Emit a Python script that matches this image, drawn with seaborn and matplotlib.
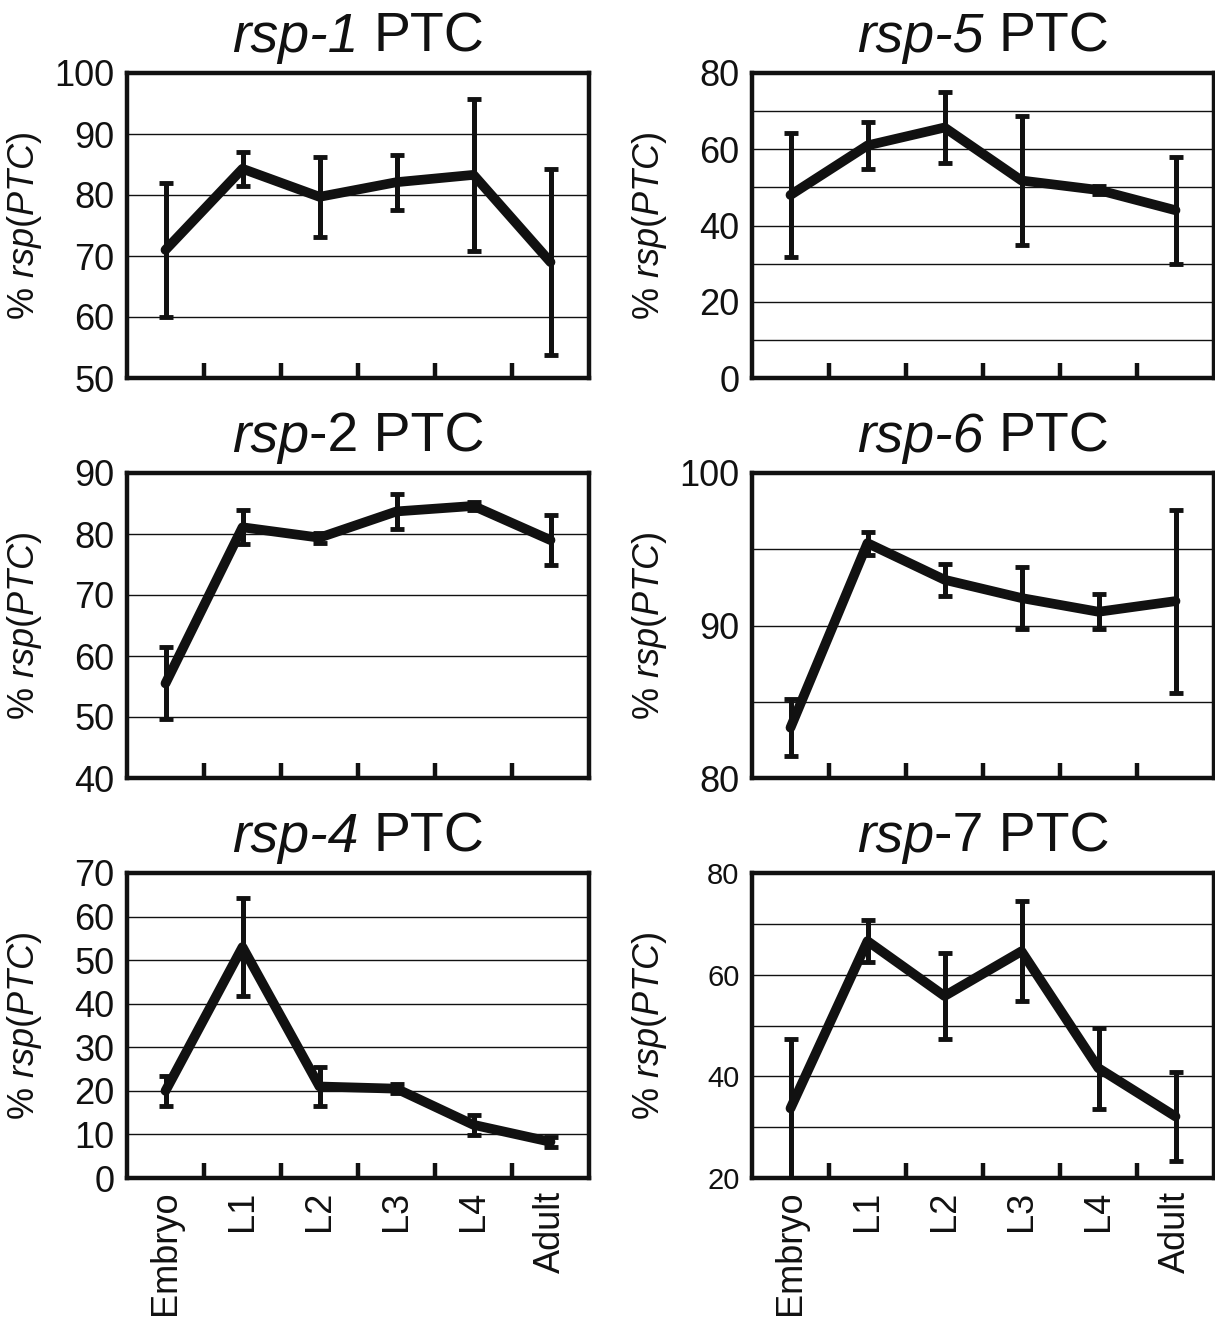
import numpy as np
import seaborn as sns
import matplotlib
matplotlib.use("Agg")
import matplotlib.pyplot as plt
from matplotlib.ticker import FixedLocator
from matplotlib.offsetbox import TextArea, HPacker, AnchoredOffsetbox

# developmental stages (x categories)
stages = ["Embryo", "L1", "L2", "L3", "L4", "Adult"]

# % rsp(PTC), mean and error bar half-length per stage
rsp1_mean = [71.0, 84.3, 79.7, 82.1, 83.3, 69.0]
rsp1_err = [11.0, 2.8, 6.6, 4.5, 12.4, 15.2]

rsp5_mean = [48.0, 61.0, 65.7, 51.8, 49.3, 44.0]
rsp5_err = [16.2, 6.1, 9.2, 17.0, 1.0, 14.0]

rsp2_mean = [55.5, 81.1, 79.4, 83.7, 84.6, 79.0]
rsp2_err = [5.9, 2.8, 0.8, 2.9, 0.6, 4.1]

rsp6_mean = [83.3, 95.4, 93.0, 91.8, 90.9, 91.6]
rsp6_err = [1.85, 0.75, 1.05, 2.05, 1.15, 6.0]

rsp4_mean = [20.0, 53.0, 21.0, 20.5, 12.2, 8.3]
rsp4_err = [3.5, 11.2, 4.5, 1.0, 2.3, 1.2]

rsp7_mean = [33.7, 66.6, 55.8, 64.6, 41.6, 32.1]
rsp7_err = [13.7, 4.1, 8.4, 9.8, 8.0, 8.8]

sns.set_style("white")
plt.rcParams["font.family"] = ["Liberation Sans", "DejaVu Sans"]
plt.rcParams["mathtext.fontset"] = "custom"
plt.rcParams["mathtext.rm"] = "Liberation Sans"
plt.rcParams["mathtext.it"] = "Liberation Sans:italic"

INK = "#111111"

# (italic part, plain part, mean, err, ylim, major ticks, minor ticks, tick size)
panels = [
    ("rsp-1", "PTC", rsp1_mean, rsp1_err, (50, 100), np.arange(50, 101, 10), [], 26),
    ("rsp-5", "PTC", rsp5_mean, rsp5_err, (0, 80), np.arange(0, 81, 20), np.arange(10, 80, 20), 26),
    ("rsp", "-2 PTC", rsp2_mean, rsp2_err, (40, 90), np.arange(40, 91, 10), [], 26),
    ("rsp-6", "PTC", rsp6_mean, rsp6_err, (80, 100), [80, 90, 100], [85, 95], 26),
    ("rsp-4", "PTC", rsp4_mean, rsp4_err, (0, 70), np.arange(0, 71, 10), [], 26),
    ("rsp", "-7 PTC", rsp7_mean, rsp7_err, (20, 80), np.arange(20, 81, 20), [30, 50, 70], 21),
]

fig = plt.figure(figsize=(12.15, 13.21), dpi=100)
W, H = 1215.0, 1321.0
lefts = [127, 752]
bottoms = [378, 778, 1178]
aw, ah = 462, 305


def gene_title(ax, italic, plain, size=40):
    parts = [TextArea(italic, textprops=dict(fontsize=size, fontstyle="italic", color=INK)),
             TextArea(plain, textprops=dict(fontsize=size, color=INK))]
    box = HPacker(children=parts, align="baseline", pad=0,
                  sep=11 if not plain.startswith("-") else 0)
    anch = AnchoredOffsetbox(loc="lower center", child=box, pad=0, borderpad=0,
                             frameon=False, bbox_to_anchor=(0.5, 1.03),
                             bbox_transform=ax.transAxes)
    ax.add_artist(anch)


for i, (ital, plain, mean, err, ylim, major, minor, tsize) in enumerate(panels):
    row, col = divmod(i, 2)
    ax = fig.add_axes([lefts[col] / W, 1 - bottoms[row] / H, aw / W, ah / H])

    ax.errorbar(stages, mean, yerr=err, fmt="none", ecolor=INK, elinewidth=3.6,
                capsize=5, capthick=3.5, zorder=3)
    sns.lineplot(x=stages, y=mean, ax=ax, color=INK, lw=7, sort=False, zorder=4)

    ax.set_xlim(-0.5, 5.5)
    ax.set_ylim(*ylim)
    ax.yaxis.set_major_locator(FixedLocator(major))
    ax.yaxis.set_minor_locator(FixedLocator(minor))
    ax.yaxis.grid(True, which="both", color=INK, lw=1.0)
    ax.set_axisbelow(True)
    ax.tick_params(axis="y", which="both", length=0, pad=9, labelsize=tsize, colors=INK)

    ax.set_xticks(range(len(stages)))
    ax.xaxis.set_minor_locator(FixedLocator(np.arange(0.5, 5, 1.0)))
    ax.tick_params(axis="x", which="minor", bottom=True, direction="in",
                   length=11, width=3.2, color=INK)
    if row == 2:
        ax.set_xticklabels(stages, rotation=90, fontsize=26, color=INK)
        ax.tick_params(axis="x", which="major", length=0, pad=9)
    else:
        ax.tick_params(axis="x", which="major", length=0, labelbottom=False)

    for s in ax.spines.values():
        s.set_linewidth(3.2)
        s.set_color(INK)

    ax.set_xlabel("")
    ax.set_ylabel(r"% $\mathit{rsp(PTC)}$", fontsize=26, color=INK)
    ax.yaxis.set_label_coords(-0.18, 0.5)
    gene_title(ax, ital, plain)

fig.savefig("out.png", dpi=100)
